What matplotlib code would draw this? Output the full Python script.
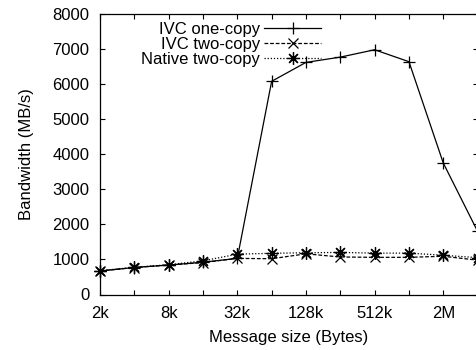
import matplotlib
matplotlib.use("Agg")
import matplotlib.pyplot as plt
from matplotlib.ticker import FixedLocator, FixedFormatter, NullLocator

plt.rcParams['font.family'] = ['Liberation Sans', 'DejaVu Sans']

sizes = [2048, 4096, 8192, 16384, 32768, 65536, 131072, 262144, 524288,
         1048576, 2097152, 4194304]
ivc_one_copy = [670, 770, 840, 920, 1030, 6080, 6620, 6770, 6980, 6640, 3750, 1800]
ivc_two_copy = [670, 770, 840, 910, 1030, 1020, 1160, 1070, 1060, 1060, 1090, 980]
native_two_copy = [680, 775, 850, 960, 1150, 1175, 1190, 1200, 1180, 1180, 1120, 1050]

tick_vals = [2048 * 2 ** i for i in range(12)]
tick_labels = ['2k', '', '8k', '', '32k', '', '128k', '', '512k', '', '2M', '']
y_ticks = [0, 1000, 2000, 3000, 4000, 5000, 6000, 7000, 8000]

FS = 12
W, H = 476, 350
fig = plt.figure(figsize=(W / 100, H / 100), dpi=100)
left, right, top, bottom = 100, 477.6, 14, 294.5
ax = fig.add_axes([left / W, 1 - bottom / H, (right - left) / W, (bottom - top) / H])

ax.plot(sizes, ivc_one_copy, color='black', lw=0.9, ls='-', marker='+',
        ms=8, mew=0.9, label='IVC one-copy', clip_on=False)
ax.plot(sizes, ivc_two_copy, color='black', lw=0.9, ls=(0, (3, 1.5)), marker='x',
        ms=7, mew=0.9, label='IVC two-copy', clip_on=False)
ax.plot(sizes, native_two_copy, color='black', lw=0.9, ls=(0, (1, 1.5)), marker=(8, 2, 0),
        ms=9, mew=0.9, label='Native two-copy', clip_on=False)

ax.set_xscale('log', base=2)
ax.set_xlim(2048, 4194304)
ax.set_ylim(0, 8000)
ax.xaxis.set_major_locator(FixedLocator(tick_vals))
ax.xaxis.set_major_formatter(FixedFormatter(tick_labels))
ax.xaxis.set_minor_locator(NullLocator())
ax.set_yticks(y_ticks)
ax.tick_params(direction='in', length=3.6, width=0.8, top=True, right=True,
               labelsize=FS, colors='black')
ax.tick_params(axis='y', pad=7.5)
ax.tick_params(axis='x', pad=8)
for s in ax.spines.values():
    s.set_linewidth(0.9)

ax.set_xlabel('Message size (Bytes)', fontsize=FS, labelpad=7)
ax.set_ylabel('Bandwidth (MB/s)', fontsize=FS, labelpad=13)

# legend anchored at handle right edge / top in pixel positions
inv = ax.transAxes.inverted()
ax_pt = inv.transform(fig.transFigure.transform((321 / W, 1 - 22 / H)))
leg = ax.legend(loc='upper right', bbox_to_anchor=(ax_pt[0], ax_pt[1]),
                frameon=False, markerfirst=False, fontsize=FS,
                handlelength=3.4, handletextpad=0.25, labelspacing=0.0,
                borderaxespad=0, borderpad=0)

fig.savefig('out.png', dpi=100)
